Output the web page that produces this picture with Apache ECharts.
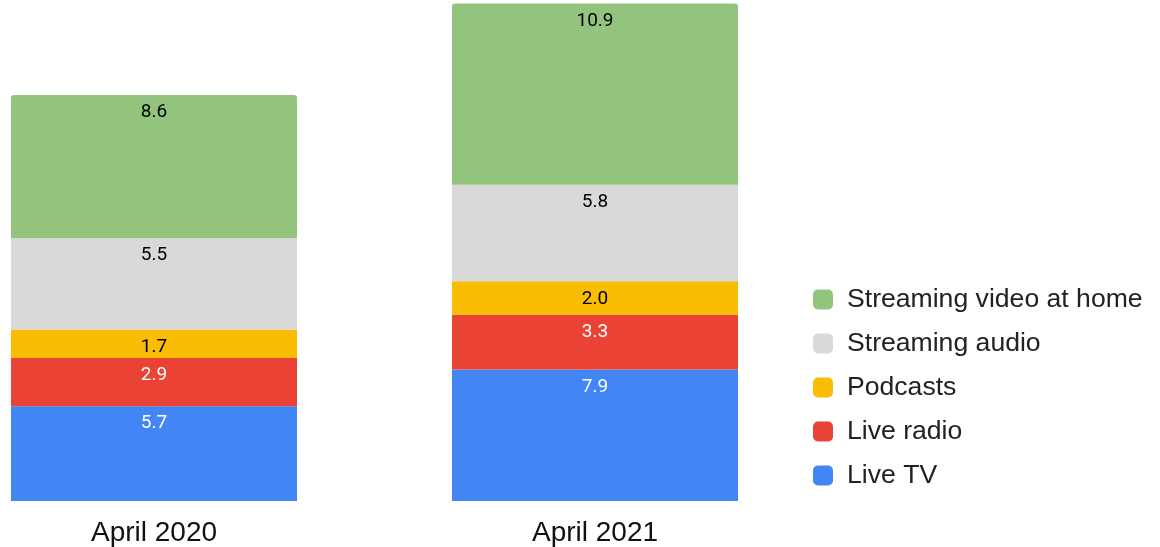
<!DOCTYPE html>
<html>
<head>
<meta charset="utf-8">
<script src="https://cdn.jsdelivr.net/npm/echarts@6/dist/echarts.min.js"></script>
<style>html,body{margin:0;padding:0;background:#fff}#c{width:1160px;height:547px}</style>
</head>
<body>
<div id="c"></div>
<script>
var categories = ['April 2020', 'April 2021'];
var liveTV = [5.7, 7.9];
var liveRadio = [2.9, 3.3];
var podcasts = [1.7, 2.0];
var streamingAudio = [5.5, 5.8];
var streamingVideo = [8.6, 10.9];
var seriesNames = ['Live TV', 'Live radio', 'Podcasts', 'Streaming audio', 'Streaming video at home'];
var seriesData = [liveTV, liveRadio, podcasts, streamingAudio, streamingVideo];
var colors = ['#4285f4', '#ea4335', '#fbbc04', '#d9d9d9', '#93c47d'];
var labelColors = ['#ffffff', '#ffffff', '#000000', '#000000', '#000000'];

var chart = echarts.init(document.getElementById('c'));
var series = seriesNames.map(function (n, i) {
  return {
    name: n,
    type: 'bar',
    stack: 'total',
    barWidth: 286,
    data: seriesData[i],
    itemStyle: { color: colors[i], borderRadius: i === 4 ? [3, 3, 0, 0] : 0 },
    label: {
      show: true,
      position: 'insideTop',
      distance: 8,
      color: labelColors[i],
      fontFamily: 'Roboto',
      fontSize: 19,
      formatter: function (p) { return p.value.toFixed(1); }
    }
  };
});
chart.setOption({
  animation: false,
  grid: { left: 154, right: 565, top: 3.5, bottom: 46 },
  legend: {
    orient: 'vertical',
    left: 808,
    top: 281,
    itemWidth: 20,
    itemHeight: 20,
    itemGap: 17,
    icon: 'roundRect',
    data: seriesNames.slice().reverse(),
    textStyle: { fontFamily: 'Liberation Sans', fontSize: 26.6, color: '#222222', padding: [0, 0, 0, 9] }
  },
  xAxis: {
    type: 'category',
    data: categories,
    boundaryGap: false,
    axisLine: { show: false },
    axisTick: { show: false },
    axisLabel: { fontFamily: 'Liberation Sans', fontSize: 28, color: '#111111', margin: 18 }
  },
  yAxis: {
    type: 'value',
    min: 0,
    max: 29.9,
    show: false,
    splitLine: { show: false }
  },
  series: series
});
</script>
</body>
</html>
